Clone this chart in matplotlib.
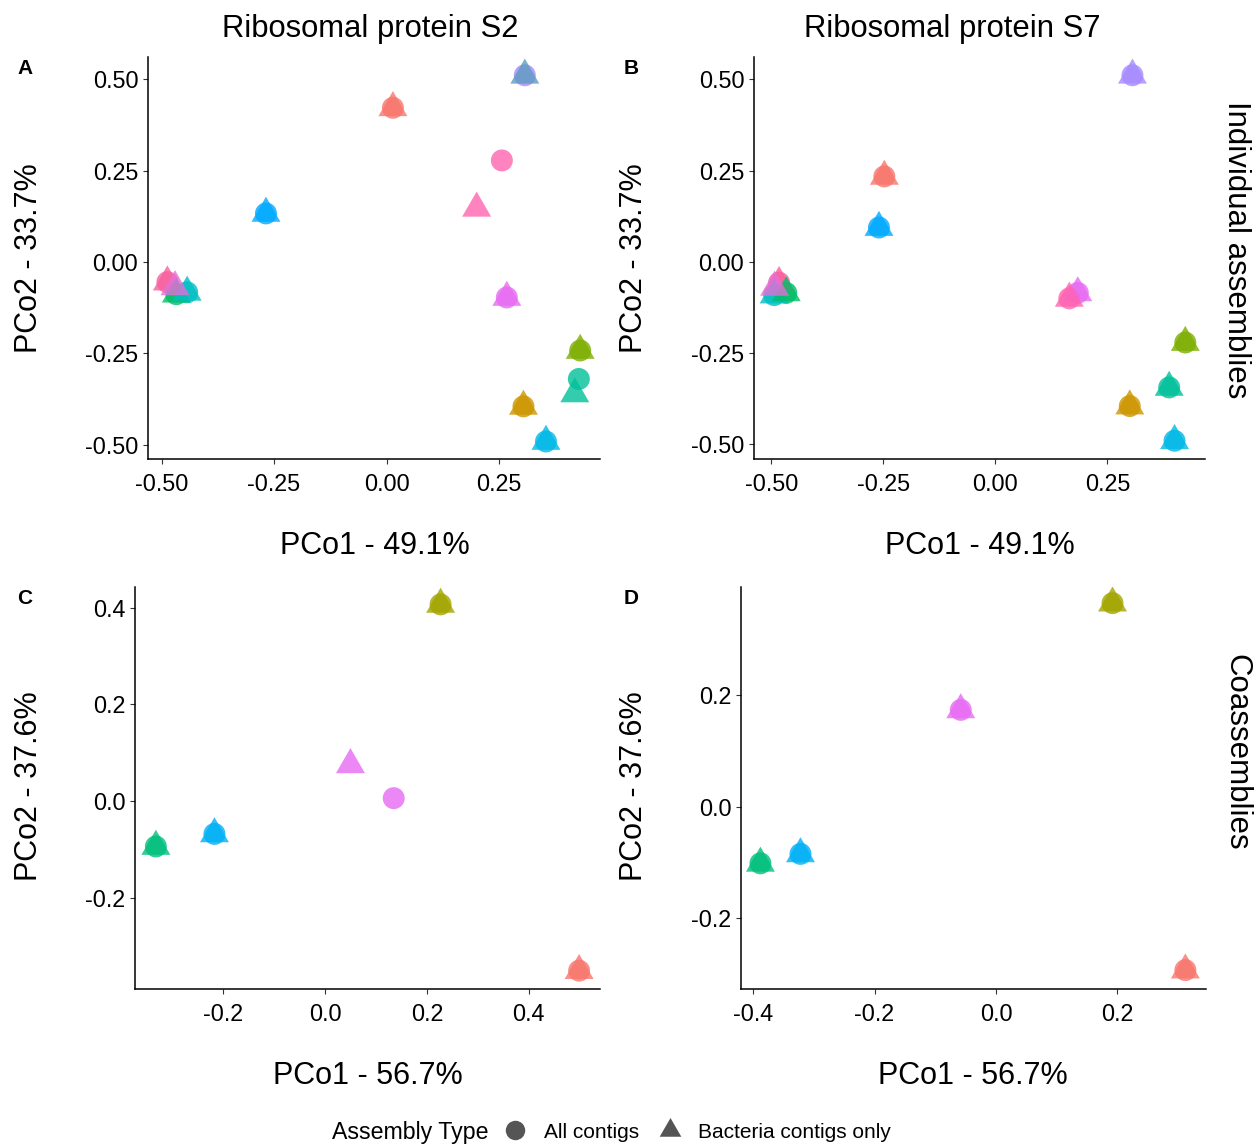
import matplotlib
matplotlib.use("Agg")
import matplotlib.pyplot as plt
from matplotlib.lines import Line2D
from matplotlib.ticker import FormatStrFormatter

plt.rcParams['font.family'] = ['Liberation Sans', 'DejaVu Sans']
plt.rcParams['axes.unicode_minus'] = False

# sample colours (ggplot hue palette)
palette = {
    "s1": "#F8766D", "s2": "#CD9600", "s3": "#7CAE00", "s4": "#00BE67",
    "s5": "#00C19A", "s6": "#00BFC4", "s7": "#00B8E7", "s8": "#00A9FF",
    "s9": "#A58AFF", "s10": "#E76BF3", "s11": "#FF64B0", "s12": "#F8609E",
    "s13": "#E46FD8", "s14": "#5E9BBE",
}
co_palette = {"c1": "#F8766D", "c2": "#A3A500", "c3": "#00BF7D", "c4": "#00B0F6", "c5": "#E76BF3"}

# ---- panel A: ribosomal protein S2, individual assemblies
a_circ_ids = ["s1", "s9", "s11", "s8", "s10", "s3", "s5", "s2", "s7", "s12", "s4", "s6"]
a_circ_x = [0.014, 0.307, 0.256, -0.268, 0.267, 0.430, 0.427, 0.304, 0.354, -0.487, -0.467, -0.443]
a_circ_y = [0.422, 0.511, 0.278, 0.133, -0.097, -0.242, -0.320, -0.395, -0.491, -0.055, -0.088, -0.083]
a_tri_ids = ["s1", "s14", "s11", "s8", "s10", "s3", "s5", "s2", "s7", "s12", "s4", "s6", "s13"]
a_tri_x = [0.014, 0.307, 0.200, -0.268, 0.267, 0.430, 0.418, 0.304, 0.354, -0.487, -0.467, -0.443, -0.470]
a_tri_y = [0.422, 0.511, 0.147, 0.133, -0.097, -0.242, -0.361, -0.395, -0.491, -0.055, -0.088, -0.083, -0.068]

# ---- panel B: ribosomal protein S7, individual assemblies
b_ids = ["s9", "s1", "s8", "s12", "s6", "s4", "s10", "s11", "s3", "s5", "s2", "s7"]
b_x = [0.306, -0.248, -0.260, -0.483, -0.494, -0.467, 0.184, 0.165, 0.424, 0.388, 0.300, 0.400]
b_y = [0.511, 0.234, 0.094, -0.057, -0.091, -0.085, -0.085, -0.100, -0.221, -0.344, -0.395, -0.490]
b_tri_ids = b_ids + ["s13"]
b_tri_x = b_x + [-0.493]
b_tri_y = b_y + [-0.070]

# ---- panel C: ribosomal protein S2, coassemblies
c_circ_ids = ["c1", "c2", "c3", "c4", "c5"]
c_circ_x = [0.499, 0.227, -0.332, -0.217, 0.135]
c_circ_y = [-0.351, 0.407, -0.094, -0.068, 0.006]
c_tri_ids = ["c1", "c2", "c3", "c4", "c5"]
c_tri_x = [0.499, 0.227, -0.332, -0.217, 0.050]
c_tri_y = [-0.351, 0.407, -0.094, -0.068, 0.075]

# ---- panel D: ribosomal protein S7, coassemblies
d_ids = ["c1", "c2", "c3", "c4", "c5"]
d_x = [0.312, 0.192, -0.388, -0.322, -0.058]
d_y = [-0.294, 0.366, -0.102, -0.085, 0.174]

tri = [(0, 1), (-0.866, -0.5), (0.866, -0.5)]  # centroid at origin like ggplot shape 17

W, H = 1255, 1145
fig = plt.figure(figsize=(W / 100, H / 100), dpi=100)


def px_axes(left, top, right, bottom):
    return fig.add_axes([left / W, 1 - bottom / H, (right - left) / W, (bottom - top) / H])


def draw(ax, pal, cids, cx, cy, tids, tx, ty, xlim, ylim, xt, yt, fmt):
    ax.scatter(cx, cy, s=250, marker="o", c=[pal[i] for i in cids], alpha=0.8, linewidths=0, zorder=3)
    ax.scatter(tx, ty, s=580, marker=tri, c=[pal[i] for i in tids], alpha=0.8, linewidths=0, zorder=4)
    ax.set_xlim(xlim)
    ax.set_ylim(ylim)
    ax.set_xticks(xt)
    ax.set_yticks(yt)
    ax.xaxis.set_major_formatter(FormatStrFormatter(fmt))
    ax.yaxis.set_major_formatter(FormatStrFormatter(fmt))
    for s in ["top", "right"]:
        ax.spines[s].set_visible(False)
    for s in ["left", "bottom"]:
        ax.spines[s].set_linewidth(1.1)
    ax.tick_params(length=3.5, width=0.8, color="#333333", labelsize=16.8, labelcolor="black")
    ax.tick_params(axis="y", pad=3.5)
    ax.tick_params(axis="x", pad=6.5)


axA = px_axes(148, 57, 600, 459)
draw(axA, palette, a_circ_ids, a_circ_x, a_circ_y, a_tri_ids, a_tri_x, a_tri_y,
     (-0.530, 0.474), (-0.539, 0.561), [-0.5, -0.25, 0, 0.25], [-0.5, -0.25, 0, 0.25, 0.5], "%.2f")
axB = px_axes(754, 57, 1205, 459)
draw(axB, palette, b_ids, b_x, b_y, b_tri_ids, b_tri_x, b_tri_y,
     (-0.539, 0.468), (-0.540, 0.561), [-0.5, -0.25, 0, 0.25], [-0.5, -0.25, 0, 0.25, 0.5], "%.2f")
axC = px_axes(135, 587, 600, 989)
draw(axC, co_palette, c_circ_ids, c_circ_x, c_circ_y, c_tri_ids, c_tri_x, c_tri_y,
     (-0.373, 0.540), (-0.389, 0.443), [-0.2, 0, 0.2, 0.4], [-0.2, 0, 0.2, 0.4], "%.1f")
axD = px_axes(741, 587, 1206, 989)
draw(axD, co_palette, d_ids, d_x, d_y, d_ids, d_x, d_y,
     (-0.420, 0.346), (-0.328, 0.395), [-0.4, -0.2, 0, 0.2], [-0.2, 0, 0.2], "%.1f")


def ftext(x, y, s, **kw):
    fig.text(x / W, 1 - y / H, s, ha="center", va="center", **kw)


ftext(370, 29, "Ribosomal protein S2", fontsize=22.3)
ftext(952, 29, "Ribosomal protein S7", fontsize=22.3)
for x, y in [(375, 546), (980, 546)]:
    ftext(x, y, "PCo1 - 49.1%", fontsize=22)
for x, y in [(368, 1076), (973, 1076)]:
    ftext(x, y, "PCo1 - 56.7%", fontsize=22)
for x, y in [(29, 258), (634, 258)]:
    ftext(x, y, "PCo2 - 33.7%", fontsize=22, rotation=90)
for x, y in [(29, 786), (634, 786)]:
    ftext(x, y, "PCo2 - 37.6%", fontsize=22, rotation=90)
for x, y, s in [(25, 69, "A"), (631, 69, "B"), (25, 598, "C"), (631, 598, "D")]:
    ftext(x, y, s, fontsize=15, fontweight="bold")
ftext(1236, 250, "Individual assemblies", fontsize=22.5, rotation=-90)
ftext(1236, 752, "Coassemblies", fontsize=22.5, rotation=-90)

# legend for assembly type
fig.text(332 / W, 1 - 1132 / H, "Assembly Type", ha="left", va="center", fontsize=16.7)
handles = [
    Line2D([], [], marker="o", linestyle="", markersize=14, color="#555555", markeredgewidth=0),
    Line2D([], [], marker=tri, linestyle="", markersize=18, color="#555555", markeredgewidth=0),
]
fig.legend(handles, ["All contigs", "Bacteria contigs only"], loc="center left",
           bbox_to_anchor=(505 / W, 1 - 1132 / H), ncol=2, frameon=False, fontsize=15,
           handlelength=1.0, handletextpad=0.85, columnspacing=1.0, borderpad=0, borderaxespad=0)

fig.savefig("out.png", dpi=100)
